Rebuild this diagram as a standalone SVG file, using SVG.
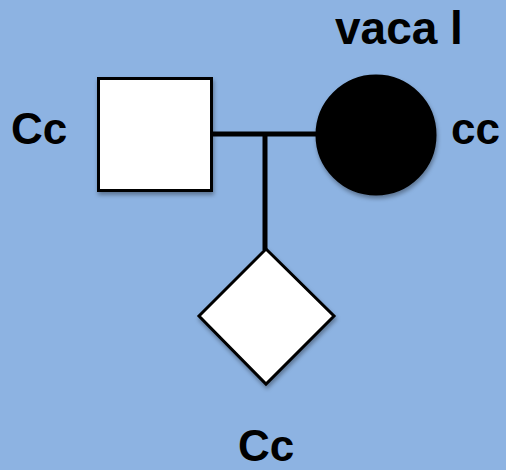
<svg xmlns="http://www.w3.org/2000/svg" width="506" height="470" viewBox="0 0 506 470">
<style>
.lbl{font-family:"Liberation Sans",Arial,sans-serif;font-weight:bold;font-size:44px;fill:#000}
.shape{stroke:#000;stroke-width:3}
.conn{stroke:#000;stroke-width:5;fill:none}
</style>
<defs>
<filter id="sh" x="-20%" y="-20%" width="140%" height="140%"><feDropShadow dx="1" dy="3" stdDeviation="2" flood-color="#000" flood-opacity="0.35"/></filter>
</defs>
<rect width="506" height="470" fill="#8db3e2"/>
<g id="connectors">
<line class="conn" x1="211" y1="134" x2="318" y2="134"/>
<line class="conn" x1="265" y1="134" x2="265" y2="250"/>
</g>
<g id="father">
<rect class="shape" x="98.5" y="78.5" width="113" height="112" fill="#fff" filter="url(#sh)"/>
<text class="lbl" x="11" y="144">Cc</text>
</g>
<g id="mother">
<circle class="shape" cx="376" cy="135" r="59" fill="#000" filter="url(#sh)"/>
<text class="lbl" x="335" y="44" style="font-size:46px">vaca l</text>
<text class="lbl" x="451" y="144">cc</text>
</g>
<g id="child">
<polygon class="shape" points="266,249 334,316 266,384 199,316" fill="#fff" filter="url(#sh)"/>
<text class="lbl" x="266" y="461" text-anchor="middle">Cc</text>
</g>
</svg>
